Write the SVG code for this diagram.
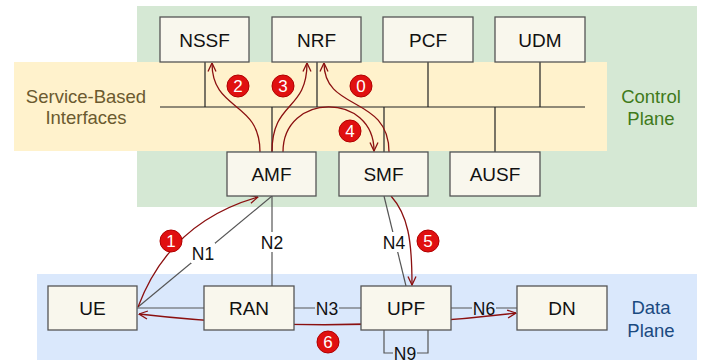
<svg xmlns="http://www.w3.org/2000/svg" width="712" height="360" viewBox="0 0 712 360">
<defs>
<style>
.node rect{fill:#f9f7ed;stroke:#555;stroke-width:1.3}
.node text,.lbl{font-family:"Liberation Sans",Arial,sans-serif;fill:#111;text-anchor:middle}
.node text{font-size:19px}
.lbl{font-size:17.5px}
.bus{stroke:#222;stroke-width:1.2;fill:none}
.edge{stroke:#555;stroke-width:1.2;fill:none}
.flow{stroke:#8b1010;stroke-width:1.3;fill:none}
.badge circle{fill:#e01010;stroke:#b00000;stroke-width:1}
.badge text{font-family:"Liberation Sans",Arial,sans-serif;font-size:17px;fill:#fff;text-anchor:middle}
.region{font-family:"Liberation Sans",Arial,sans-serif;font-size:18.5px;text-anchor:middle}
</style>
<marker id="ah" viewBox="0 0 10 10" refX="9.5" refY="5" markerWidth="10" markerHeight="10" markerUnits="userSpaceOnUse" orient="auto-start-reverse">
<path d="M1,1 L9.5,5 L1,9" fill="none" stroke="#8b1010" stroke-width="1.3"/>
</marker>
</defs>
<rect width="712" height="360" fill="#ffffff"/>
<!-- regions -->
<rect x="137" y="6" width="560" height="201" fill="#d5e8d4"/>
<rect x="14" y="62" width="593" height="89" fill="#fff2cc"/>
<rect x="37" y="274" width="660" height="86" fill="#dae8fc"/>
<g id="region-labels">
<text class="region" x="86" y="103" fill="#6b5a2f">Service-Based</text>
<text class="region" x="86" y="124" fill="#6b5a2f">Interfaces</text>
<text class="region" x="651" y="103" fill="#3f7a1a">Control</text>
<text class="region" x="651" y="125" fill="#3f7a1a">Plane</text>
<text class="region" x="651" y="314" fill="#1a4a80">Data</text>
<text class="region" x="651" y="337" fill="#1a4a80">Plane</text>
</g>
<!-- connectors -->
<g id="connectors">
<path class="bus" d="M160,107 H585 M205,62 V107 M317,62 V107 M428,62 V107 M540,62 V107 M272,107 V152 M384,107 V152 M495,107 V152"/>
<path class="edge" d="M138,307 L272,196"/>
<path class="edge" d="M272,196 V286"/>
<path class="edge" d="M137,308 H204"/>
<path class="edge" d="M294,308 H361"/>
<path class="edge" d="M384,196 L406,286"/>
<path class="edge" d="M451,308 H517"/>
<path class="edge" d="M384,330 V353 H428 V330"/>
<rect x="191" y="243" width="24" height="20" fill="#ffffff"/>
<text class="lbl" x="203" y="260">N1</text>
<rect x="260" y="232" width="24" height="20" fill="#ffffff"/>
<text class="lbl" x="272" y="249">N2</text>
<rect x="382" y="232" width="24" height="20" fill="#ffffff"/>
<text class="lbl" x="394" y="249">N4</text>
<rect x="315" y="298" width="24" height="20" fill="#dae8fc"/>
<text class="lbl" x="327" y="315">N3</text>
<rect x="472" y="298" width="24" height="20" fill="#dae8fc"/>
<text class="lbl" x="484" y="315">N6</text>
<rect x="393" y="345" width="24" height="15" fill="#dae8fc"/>
<text class="lbl" x="405" y="360">N9</text>
<!-- flows -->
<path class="flow" marker-end="url(#ah)" d="M138,307 Q170,222 258,197"/>
<path class="flow" marker-end="url(#ah)" d="M260,152 C260,100 212,112 212,63"/>
<path class="flow" marker-end="url(#ah)" d="M272,152 C272,100 307,112 307,63"/>
<path class="flow" marker-end="url(#ah)" d="M389,152 C389,95 324,112 324,63"/>
<path class="flow" marker-end="url(#ah)" d="M283,152 C283,92 374,92 374,151"/>
<path class="flow" marker-end="url(#ah)" d="M391,196 C408,215 412,240 412,285"/>
<path class="flow" marker-start="url(#ah)" marker-end="url(#ah)" d="M139,314 Q330,336 516,313"/>
</g>
<!-- nodes -->
<g id="NSSF" class="node"><rect x="160" y="17" width="89" height="45"/><text x="204.5" y="46.5">NSSF</text></g>
<g id="NRF" class="node"><rect x="272" y="17" width="89" height="45"/><text x="316.5" y="46.5">NRF</text></g>
<g id="PCF" class="node"><rect x="383" y="17" width="90" height="45"/><text x="428" y="46.5">PCF</text></g>
<g id="UDM" class="node"><rect x="495" y="17" width="90" height="45"/><text x="540" y="46.5">UDM</text></g>
<g id="AMF" class="node"><rect x="227" y="152" width="89" height="44"/><text x="271.5" y="181">AMF</text></g>
<g id="SMF" class="node"><rect x="339" y="152" width="89" height="44"/><text x="383.5" y="181">SMF</text></g>
<g id="AUSF" class="node"><rect x="450" y="152" width="90" height="44"/><text x="495" y="181">AUSF</text></g>
<g id="UE" class="node"><rect x="48" y="286" width="89" height="44"/><text x="92.5" y="315">UE</text></g>
<g id="RAN" class="node"><rect x="204" y="286" width="90" height="44"/><text x="249" y="315">RAN</text></g>
<g id="UPF" class="node"><rect x="361" y="286" width="90" height="44"/><text x="406" y="315">UPF</text></g>
<g id="DN" class="node"><rect x="517" y="286" width="90" height="44"/><text x="562" y="315">DN</text></g>
<!-- badges -->
<g id="badge-0" class="badge"><circle cx="361" cy="86" r="11"/><text x="361" y="92">0</text></g>
<g id="badge-1" class="badge"><circle cx="171" cy="241" r="11"/><text x="171" y="247">1</text></g>
<g id="badge-2" class="badge"><circle cx="238" cy="86" r="11"/><text x="238" y="92">2</text></g>
<g id="badge-3" class="badge"><circle cx="283" cy="86" r="11"/><text x="283" y="92">3</text></g>
<g id="badge-4" class="badge"><circle cx="350" cy="131" r="11"/><text x="350" y="137">4</text></g>
<g id="badge-5" class="badge"><circle cx="428" cy="241" r="11"/><text x="428" y="247">5</text></g>
<g id="badge-6" class="badge"><circle cx="328" cy="342" r="11"/><text x="328" y="348">6</text></g>
</svg>
